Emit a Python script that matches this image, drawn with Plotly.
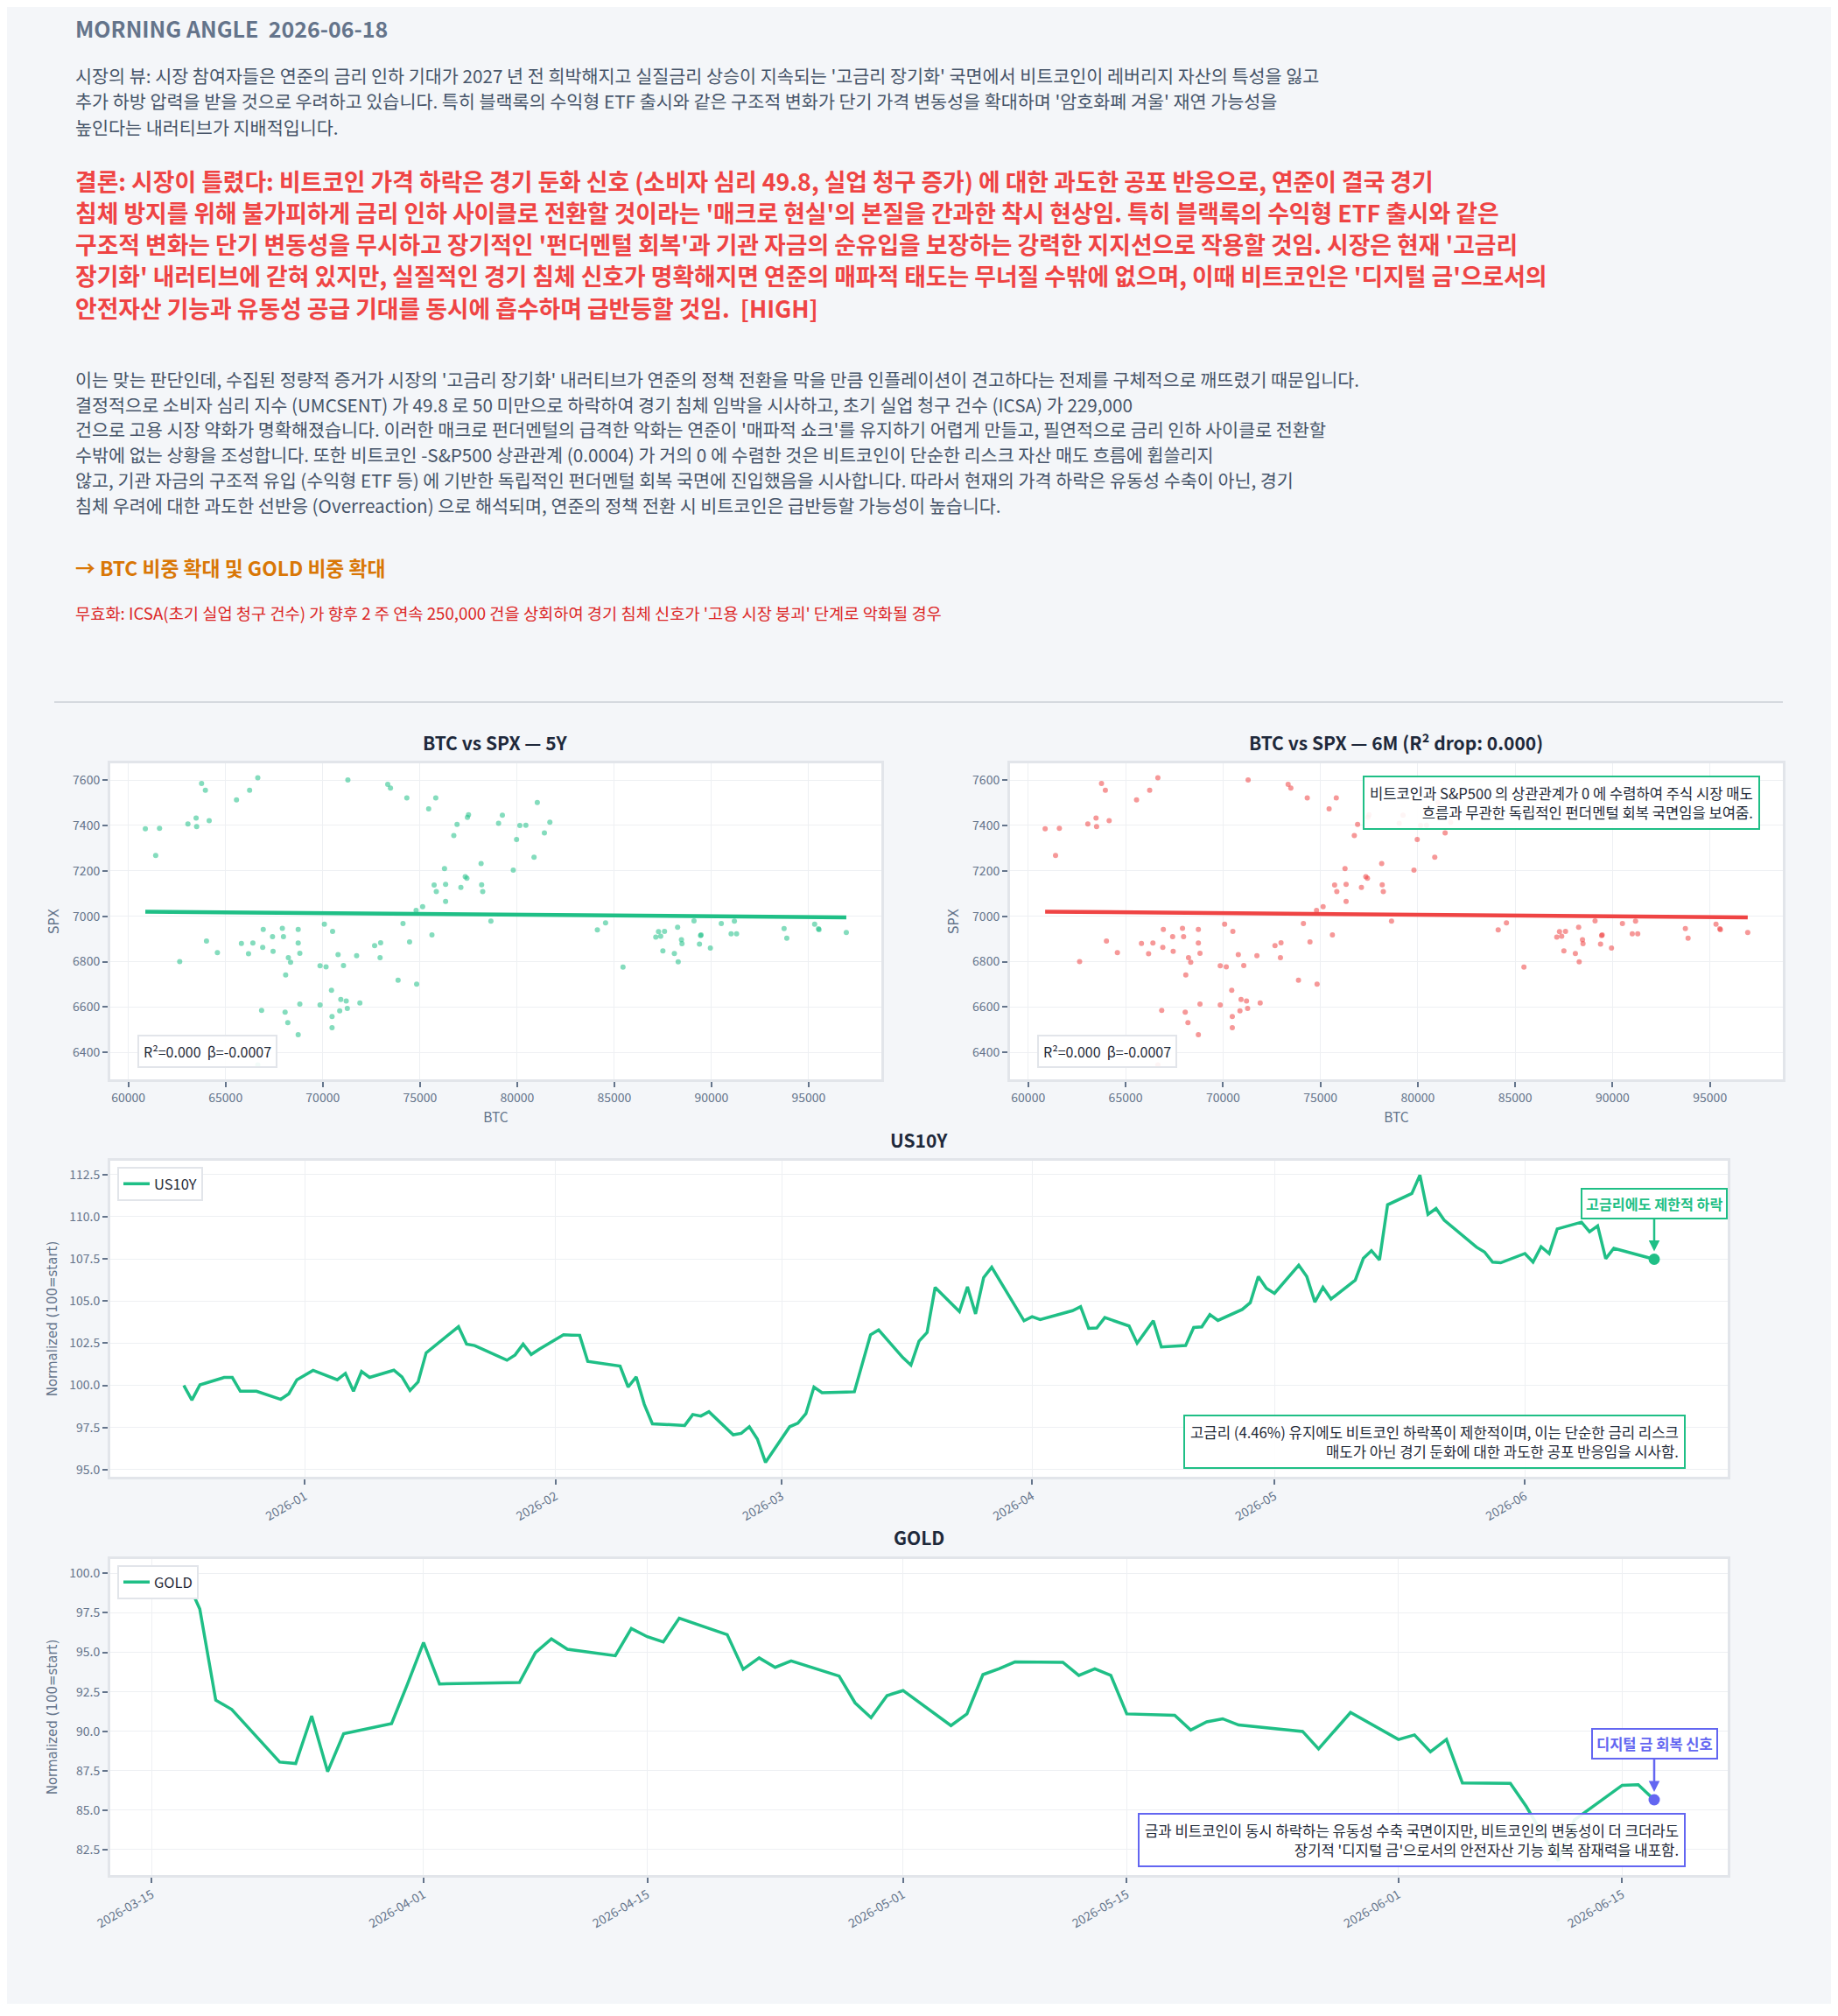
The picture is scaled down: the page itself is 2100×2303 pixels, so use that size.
import plotly.graph_objects as go
import pandas as pd

# page is 2100 x 2303; browser body keeps an 8px margin, so the figure is a bit smaller
OFF = 8
W, H = 2100 - 2 * OFF, 2303 - 2 * OFF - 6

# ---------------- text blocks ----------------
header = "MORNING ANGLE \u00a02026-06-18"
view_lines = [
    "시장의 뷰: 시장 참여자들은 연준의 금리 인하 기대가 2027 년 전 희박해지고 실질금리 상승이 지속되는 '고금리 장기화' 국면에서 비트코인이 레버리지 자산의 특성을 잃고",
    "추가 하방 압력을 받을 것으로 우려하고 있습니다. 특히 블랙록의 수익형 ETF 출시와 같은 구조적 변화가 단기 가격 변동성을 확대하며 '암호화폐 겨울' 재연 가능성을",
    "높인다는 내러티브가 지배적입니다.",
]
verdict_lines = [
    "결론: 시장이 틀렸다: 비트코인 가격 하락은 경기 둔화 신호 (소비자 심리 49.8, 실업 청구 증가) 에 대한 과도한 공포 반응으로, 연준이 결국 경기",
    "침체 방지를 위해 불가피하게 금리 인하 사이클로 전환할 것이라는 '매크로 현실'의 본질을 간과한 착시 현상임. 특히 블랙록의 수익형 ETF 출시와 같은",
    "구조적 변화는 단기 변동성을 무시하고 장기적인 '펀더멘털 회복'과 기관 자금의 순유입을 보장하는 강력한 지지선으로 작용할 것임. 시장은 현재 '고금리",
    "장기화' 내러티브에 갇혀 있지만, 실질적인 경기 침체 신호가 명확해지면 연준의 매파적 태도는 무너질 수밖에 없으며, 이때 비트코인은 '디지털 금'으로서의",
    "안전자산 기능과 유동성 공급 기대를 동시에 흡수하며 급반등할 것임. \u00a0[HIGH]",
]
reason_lines = [
    "이는 맞는 판단인데, 수집된 정량적 증거가 시장의 '고금리 장기화' 내러티브가 연준의 정책 전환을 막을 만큼 인플레이션이 견고하다는 전제를 구체적으로 깨뜨렸기 때문입니다.",
    "결정적으로 소비자 심리 지수 (UMCSENT) 가 49.8 로 50 미만으로 하락하여 경기 침체 임박을 시사하고, 초기 실업 청구 건수 (ICSA) 가 229,000",
    "건으로 고용 시장 약화가 명확해졌습니다. 이러한 매크로 펀더멘털의 급격한 악화는 연준이 '매파적 쇼크'를 유지하기 어렵게 만들고, 필연적으로 금리 인하 사이클로 전환할",
    "수밖에 없는 상황을 조성합니다. 또한 비트코인 -S&P500 상관관계 (0.0004) 가 거의 0 에 수렴한 것은 비트코인이 단순한 리스크 자산 매도 흐름에 휩쓸리지",
    "않고, 기관 자금의 구조적 유입 (수익형 ETF 등) 에 기반한 독립적인 펀더멘털 회복 국면에 진입했음을 시사합니다. 따라서 현재의 가격 하락은 유동성 수축이 아닌, 경기",
    "침체 우려에 대한 과도한 선반응 (Overreaction) 으로 해석되며, 연준의 정책 전환 시 비트코인은 급반등할 가능성이 높습니다.",
]
action_text = "→ BTC 비중 확대 및 GOLD 비중 확대"
invalid_text = "무효화: ICSA(초기 실업 청구 건수) 가 향후 2 주 연속 250,000 건을 상회하여 경기 침체 신호가 '고용 시장 붕괴' 단계로 악화될 경우"

# ---------------- scatter data (BTC vs SPX) ----------------
btc = [60871, 61601, 61404, 62640, 63062, 63483, 63511, 63764, 63961, 64157,
       64017, 64579, 65562, 65815, 66180, 66236, 66404, 66657, 66657, 66854,
       66938, 66910, 67416, 67444, 67921, 67978, 68062, 68090, 68202, 68230,
       68343, 68736, 68736, 68820, 68820, 68736, 69860, 69860, 70084, 70169,
       70449, 70478, 70478, 70506, 70787, 70871, 70927, 71067, 71208, 71264,
       71292, 71742, 71910, 72669, 72949, 72978, 73343, 73483, 73876, 74129,
       74326, 74466, 74803, 74831, 75140, 75449, 75618, 75730, 75843, 75815,
       76264, 76320, 76320, 76742, 76910, 77107, 77331, 77416, 77444, 77500,
       78146, 78174, 78230, 78652, 79045, 79242, 79803, 79972, 80140, 80449,
       80871, 81039, 81404, 81685, 84129, 84551, 85449, 87135, 87275, 87388,
       87500, 87584, 88090, 88258, 88287, 88455, 88483, 89101, 89382, 89438,
       89466, 89944, 90506, 91011, 91180, 91292, 93736, 93876, 95309, 95506,
       95534, 96938]
spx = [7385, 7387, 7268, 6800, 7406, 7432, 7395, 7585, 7555, 7421,
       6891, 6840, 7512, 6880, 6835, 7555, 6882, 7610, 6345, 6585,
       6942, 6863, 6910, 6845, 6947, 6910, 6578, 6741, 6531, 6818,
       6797, 6942, 6882, 6837, 6613, 6478, 6609, 6782, 6965, 6777,
       6674, 6558, 6509, 6933, 6831, 6583, 6633, 6783, 6627, 6594,
       7600, 6826, 6618, 6871, 6818, 6883, 7581, 7564, 6718, 6968,
       7521, 6887, 7026, 6701, 7042, 7473, 6918, 7137, 7109, 7521,
       7210, 7065, 7140, 7355, 7404, 7127, 7174, 7167, 7435, 7447,
       7232, 7138, 7109, 6978, 7409, 7445, 7203, 7338, 7400, 7401,
       7260, 7501, 7367, 7414, 6940, 6971, 6776, 6908, 6932, 6912,
       6847, 6933, 6836, 6951, 6799, 6897, 6879, 6979, 6877, 6915,
       6918, 6860, 6968, 6923, 6978, 6923, 6946, 6903, 6965, 6945,
       6941, 6928]
reg_beta = -0.0007
reg_intercept = 7062.6
r2_5y = 0.000
r2_drop = 0.000

# ---------------- US10Y (normalized) ----------------
us10y_dates = [
    "2025-12-17", "2025-12-18", "2025-12-19", "2025-12-22", "2025-12-23", "2025-12-24",
    "2025-12-26", "2025-12-29", "2025-12-30", "2025-12-31", "2026-01-02", "2026-01-05",
    "2026-01-06", "2026-01-07", "2026-01-08", "2026-01-09", "2026-01-12", "2026-01-13",
    "2026-01-14", "2026-01-15", "2026-01-16", "2026-01-20", "2026-01-21", "2026-01-22",
    "2026-01-26", "2026-01-27", "2026-01-28", "2026-01-29", "2026-01-30", "2026-02-02",
    "2026-02-03", "2026-02-04", "2026-02-05", "2026-02-09", "2026-02-10", "2026-02-11",
    "2026-02-12", "2026-02-13", "2026-02-17", "2026-02-18", "2026-02-19", "2026-02-20",
    "2026-02-23", "2026-02-24", "2026-02-25", "2026-02-26", "2026-02-27", "2026-03-02",
    "2026-03-03", "2026-03-04", "2026-03-05", "2026-03-06", "2026-03-09", "2026-03-10",
    "2026-03-12", "2026-03-13", "2026-03-16", "2026-03-17", "2026-03-18", "2026-03-19",
    "2026-03-20", "2026-03-23", "2026-03-24", "2026-03-25", "2026-03-26", "2026-03-27",
    "2026-03-31", "2026-04-01", "2026-04-02", "2026-04-06", "2026-04-07", "2026-04-08",
    "2026-04-09", "2026-04-10", "2026-04-13", "2026-04-14", "2026-04-16", "2026-04-17",
    "2026-04-20", "2026-04-21", "2026-04-22", "2026-04-23", "2026-04-24", "2026-04-27",
    "2026-04-28", "2026-04-29", "2026-04-30", "2026-05-01", "2026-05-04", "2026-05-05",
    "2026-05-06", "2026-05-07", "2026-05-08", "2026-05-11", "2026-05-12", "2026-05-13",
    "2026-05-14", "2026-05-15", "2026-05-18", "2026-05-19", "2026-05-20", "2026-05-21",
    "2026-05-22", "2026-05-26", "2026-05-27", "2026-05-28", "2026-05-29", "2026-06-01",
    "2026-06-02", "2026-06-03", "2026-06-04", "2026-06-05", "2026-06-08", "2026-06-09",
    "2026-06-10", "2026-06-11", "2026-06-12", "2026-06-17",
]
us10y_vals = [
    100.0, 99.13, 100.03, 100.47, 100.47, 99.65,
    99.65, 99.17, 99.5, 100.33, 100.89, 100.33,
    100.71, 99.65, 100.82, 100.47, 100.9, 100.5,
    99.7, 100.2, 101.93, 103.48, 102.45, 102.36,
    101.49, 101.8, 102.45, 101.83, 102.14, 103.0,
    102.98, 102.97, 101.42, 101.14, 99.9, 100.5,
    98.87, 97.72, 97.62, 98.27, 98.18, 98.44,
    97.07, 97.15, 97.55, 96.81, 95.43, 97.55,
    97.75, 98.32, 99.9, 99.56, 99.6, 99.62,
    103.0, 103.29, 101.65, 101.2, 102.62, 103.14,
    105.81, 104.38, 105.84, 104.24, 106.39, 107.01,
    103.83, 104.07, 103.9, 104.43, 104.67, 103.38,
    103.4, 104.02, 103.52, 102.5, 103.83, 102.28,
    102.36, 103.43, 103.47, 104.2, 103.85, 104.5,
    104.9, 106.45, 105.76, 105.46, 107.13, 106.45,
    104.94, 105.81, 105.12, 106.24, 107.53, 107.99,
    107.44, 110.71, 111.38, 112.47, 110.14, 110.49,
    109.8, 108.2, 107.91, 107.31, 107.27, 107.82,
    107.31, 108.22, 107.82, 109.28, 109.68, 109.11,
    109.46, 107.51, 108.13, 107.48,
]

# ---------------- GOLD (normalized) ----------------
gold_dates = [
    "2026-03-17", "2026-03-18", "2026-03-19", "2026-03-20", "2026-03-23", "2026-03-24",
    "2026-03-25", "2026-03-26", "2026-03-27", "2026-03-30", "2026-03-31", "2026-04-01",
    "2026-04-02", "2026-04-07", "2026-04-08", "2026-04-09", "2026-04-10", "2026-04-13",
    "2026-04-14", "2026-04-15", "2026-04-16", "2026-04-17", "2026-04-20", "2026-04-21",
    "2026-04-22", "2026-04-23", "2026-04-24", "2026-04-27", "2026-04-28", "2026-04-29",
    "2026-04-30", "2026-05-01", "2026-05-04", "2026-05-05", "2026-05-06", "2026-05-07",
    "2026-05-08", "2026-05-11", "2026-05-12", "2026-05-13", "2026-05-14", "2026-05-15",
    "2026-05-18", "2026-05-19", "2026-05-20", "2026-05-21", "2026-05-22", "2026-05-26",
    "2026-05-27", "2026-05-28", "2026-05-29", "2026-06-01", "2026-06-02", "2026-06-03",
    "2026-06-04", "2026-06-05", "2026-06-08", "2026-06-09", "2026-06-11", "2026-06-12",
    "2026-06-15", "2026-06-16", "2026-06-17",
]
gold_vals = [
    100.0, 97.75, 91.97, 91.38, 88.05, 87.96,
    90.97, 87.44, 89.84, 90.49, 93.0, 95.62,
    93.0, 93.09, 94.98, 95.85, 95.2, 94.79,
    96.51, 95.99, 95.66, 97.16, 96.12, 93.93,
    94.65, 94.05, 94.46, 93.5, 91.8, 90.86,
    92.26, 92.58, 90.36, 91.1, 93.59, 93.96,
    94.39, 94.37, 93.54, 93.96, 93.54, 91.1,
    91.01, 90.08, 90.6, 90.79, 90.4, 89.99,
    88.88, 90.05, 91.19, 89.48, 89.77, 88.7,
    89.48, 86.72, 86.7, 85.23, 81.8, 84.38,
    86.58, 86.62, 85.66,
]
us10y_ticks = ["2026-01-01", "2026-02-01", "2026-03-01", "2026-04-01", "2026-05-01", "2026-06-01"]
gold_ticks = ["2026-03-15", "2026-04-01", "2026-04-15", "2026-05-01", "2026-05-15", "2026-06-01", "2026-06-15"]

note_spx = "비트코인과 S&P500 의 상관관계가 0 에 수렴하여 주식 시장 매도<br>흐름과 무관한 독립적인 펀더멘털 회복 국면임을 보여줌."
note_us10y = "고금리 (4.46%) 유지에도 비트코인 하락폭이 제한적이며, 이는 단순한 금리 리스크<br>매도가 아닌 경기 둔화에 대한 과도한 공포 반응임을 시사함."
call_us10y = "고금리에도 제한적 하락"
note_gold = "금과 비트코인이 동시 하락하는 유동성 수축 국면이지만, 비트코인의 변동성이 더 크더라도<br>장기적 '디지털 금'으로서의 안전자산 기능 회복 잠재력을 내포함."
call_gold = "디지털 금 회복 신호"

# ---------------- styling ----------------
FONT = "Noto Sans CJK KR"
BG = "#f4f6f9"
GREEN = "#1fbf86"
RED = "#ef4444"
PURPLE = "#6366f1"
TICK = "#64748b"
GRID = "#eef0f3"
FRAME = "#e2e5ea"


def px(x):
    return (x - OFF) / W


def py(y):
    return 1 - (y - OFF) / H


def pad_range(vals, frac=0.05):
    lo, hi = min(vals), max(vals)
    d = (hi - lo) * frac
    return [lo - d, hi + d]


def pad_dates(dates, frac=0.05):
    d = pd.to_datetime(dates)
    span = d.max() - d.min()
    return [(d.min() - span * frac).isoformat(), (d.max() + span * frac).isoformat()]


fig = go.Figure()

# scatters
x_line = [min(btc), max(btc)]
y_line = [reg_intercept + reg_beta * v for v in x_line]
for i, col in [(1, GREEN), (2, RED)]:
    suf = "" if i == 1 else str(i)
    fig.add_trace(go.Scatter(x=btc, y=spx, mode="markers", xaxis="x" + suf, yaxis="y" + suf,
                             marker=dict(size=6, color=col, opacity=0.55), showlegend=False,
                             hoverinfo="skip"))
    fig.add_trace(go.Scatter(x=x_line, y=y_line, mode="lines", xaxis="x" + suf, yaxis="y" + suf,
                             line=dict(color=col, width=4.5), showlegend=False))

# US10Y
fig.add_trace(go.Scatter(x=us10y_dates, y=us10y_vals, mode="lines", name="US10Y",
                         xaxis="x3", yaxis="y3", line=dict(color=GREEN, width=3.5), legend="legend"))
fig.add_trace(go.Scatter(x=[us10y_dates[-1]], y=[us10y_vals[-1]], mode="markers", xaxis="x3", yaxis="y3",
                         marker=dict(size=13, color=GREEN), showlegend=False))

# GOLD
fig.add_trace(go.Scatter(x=gold_dates, y=gold_vals, mode="lines", name="GOLD",
                         xaxis="x4", yaxis="y4", line=dict(color=GREEN, width=3.5), legend="legend2"))
fig.add_trace(go.Scatter(x=[gold_dates[-1]], y=[gold_vals[-1]], mode="markers", xaxis="x4", yaxis="y4",
                         marker=dict(size=13, color=PURPLE), showlegend=False))

axis_common = dict(showgrid=True, gridcolor=GRID, gridwidth=1, zeroline=False, automargin=False,
                   showline=True, linecolor=FRAME, linewidth=3, mirror=True,
                   ticks="outside", ticklen=6, tickwidth=2, tickcolor=TICK,
                   tickfont=dict(family=FONT, size=14, color=TICK))
title_font = dict(family="DejaVu Sans", size=15, color=TICK)
btc_title = dict(text="BTC", font=dict(family=FONT, size=15.5, color=TICK), standoff=10)

layout_axes = dict(
    xaxis=dict(domain=[px(126), px(1007)], anchor="y", range=pad_range(btc), dtick=5000,
               tickformat="d", title=btc_title, **axis_common),
    yaxis=dict(domain=[py(1233), py(872)], anchor="x", range=pad_range(spx), dtick=200,
               title=dict(text="SPX", font=title_font, standoff=12), **axis_common),
    xaxis2=dict(domain=[px(1154), px(2037)], anchor="y2", range=pad_range(btc), dtick=5000,
                tickformat="d", title=btc_title, **axis_common),
    yaxis2=dict(domain=[py(1233), py(872)], anchor="x2", range=pad_range(spx), dtick=200,
                title=dict(text="SPX", font=title_font, standoff=12), **axis_common),
    xaxis3=dict(domain=[px(126), px(1974)], anchor="y3", range=pad_dates(us10y_dates),
                tickvals=us10y_ticks, tickformat="%Y-%m", tickangle=-30, **axis_common),
    yaxis3=dict(domain=[py(1687), py(1326)], anchor="x3", range=pad_range(us10y_vals), dtick=2.5,
                tickformat=".1f", title=dict(text="Normalized (100=start)", font=title_font, standoff=10),
                **axis_common),
    xaxis4=dict(domain=[px(126), px(1974)], anchor="y4", range=pad_dates(gold_dates),
                tickvals=gold_ticks, tickformat="%Y-%m-%d", tickangle=-30, **axis_common),
    yaxis4=dict(domain=[py(2142), py(1781)], anchor="x4", range=pad_range(gold_vals), dtick=2.5,
                tickformat=".1f", title=dict(text="Normalized (100=start)", font=title_font, standoff=10),
                **axis_common),
)

ann = []


def text_line(t, x, y, size, color, bold=False):
    ann.append(dict(text=f"<b>{t}</b>" if bold else t, x=px(x), y=py(y), xref="paper", yref="paper",
                    xanchor="left", yanchor="middle", showarrow=False,
                    font=dict(family=FONT, size=size, color=color)))


text_line(header, 84, 32, 25, "#64748b", bold=True)
for t, y in zip(view_lines, [86, 115, 145]):
    text_line(t, 84, y, 20.7, "#475569")
for t, y in zip(verdict_lines, [206, 242, 278, 314, 352]):
    text_line(t, 84, y, 26.8, RED, bold=True)
for t, y in zip(reason_lines, [433, 462, 490, 519, 548, 577]):
    text_line(t, 84, y, 20.7, "#475569")
text_line(action_text, 84, 648, 22.8, "#d97706", bold=True)
text_line(invalid_text, 84, 699, 18.7, "#dc2626")

# subplot titles
for t, xc, yc in [("BTC vs SPX — 5Y", 566, 848), ("BTC vs SPX — 6M (R² drop: %.3f)" % r2_drop, 1595, 848),
                  ("US10Y", 1050, 1302), ("GOLD", 1050, 1756)]:
    ann.append(dict(text=f"<b>{t}</b>", x=px(xc), y=py(yc), xref="paper", yref="paper",
                    xanchor="center", yanchor="middle", showarrow=False,
                    font=dict(family=FONT, size=21, color="#1e293b")))

# R2 boxes
for suf in ["", "2"]:
    ann.append(dict(text="R²=%.3f \u00a0β=%.4f" % (r2_5y, reg_beta), x=0.035, y=0.035,
                    xref="x%s domain" % suf, yref="y%s domain" % suf, xanchor="left", yanchor="bottom",
                    showarrow=False, bgcolor="rgba(255,255,255,0.9)", bordercolor=FRAME, borderwidth=2,
                    borderpad=5, font=dict(family=FONT, size=16, color="#1f2937")))

ann.append(dict(text=note_spx, x=0.97, y=0.96, xref="x2 domain", yref="y2 domain", xanchor="right",
                yanchor="top", align="right", showarrow=False, bgcolor="rgba(255,255,255,0.9)",
                bordercolor=GREEN, borderwidth=2, borderpad=6,
                font=dict(family=FONT, size=16.6, color="#1f2937")))
ann.append(dict(text=note_us10y, x=0.974, y=0.025, xref="x3 domain", yref="y3 domain", xanchor="right",
                yanchor="bottom", align="right", showarrow=False, bgcolor="rgba(255,255,255,0.9)",
                bordercolor=GREEN, borderwidth=2, borderpad=6,
                font=dict(family=FONT, size=16.7, color="#1f2937")))
ann.append(dict(text=note_gold, x=0.974, y=0.025, xref="x4 domain", yref="y4 domain", xanchor="right",
                yanchor="bottom", align="right", showarrow=False, bgcolor="rgba(255,255,255,0.9)",
                bordercolor=PURPLE, borderwidth=2, borderpad=6,
                font=dict(family=FONT, size=16.7, color="#1f2937")))

ann.append(dict(text=f"<b>{call_us10y}</b>", x=us10y_dates[-1], y=us10y_vals[-1], xref="x3", yref="y3",
                ax=0, ay=-64, showarrow=True, arrowhead=2, arrowsize=1, arrowwidth=2.5, arrowcolor=GREEN,
                standoff=9, bgcolor="white", bordercolor=GREEN, borderwidth=2, borderpad=4,
                font=dict(family=FONT, size=16.2, color=GREEN)))
ann.append(dict(text=f"<b>{call_gold}</b>", x=gold_dates[-1], y=gold_vals[-1], xref="x4", yref="y4",
                ax=0, ay=-64, showarrow=True, arrowhead=2, arrowsize=1, arrowwidth=2.5, arrowcolor=PURPLE,
                standoff=9, bgcolor="white", bordercolor=PURPLE, borderwidth=2, borderpad=4,
                font=dict(family=FONT, size=16.5, color=PURPLE)))

legend_style = dict(bgcolor="white", bordercolor=FRAME, borderwidth=2,
                    font=dict(family=FONT, size=16.5, color="#1f2937"), xanchor="left", yanchor="top")

fig.update_layout(
    width=W, height=H,
    margin=dict(l=0, r=0, t=0, b=0, autoexpand=False),
    paper_bgcolor=BG, plot_bgcolor="white",
    font=dict(family=FONT, color=TICK),
    annotations=ann,
    shapes=[dict(type="line", xref="paper", yref="paper", x0=px(62), x1=px(2037), y0=py(802), y1=py(802),
                 line=dict(color="#d5d9df", width=2))],
    legend=dict(x=px(134), y=py(1333), **legend_style),
    legend2=dict(x=px(134), y=py(1788), **legend_style),
    **layout_axes,
)

fig.write_html("out.html")
